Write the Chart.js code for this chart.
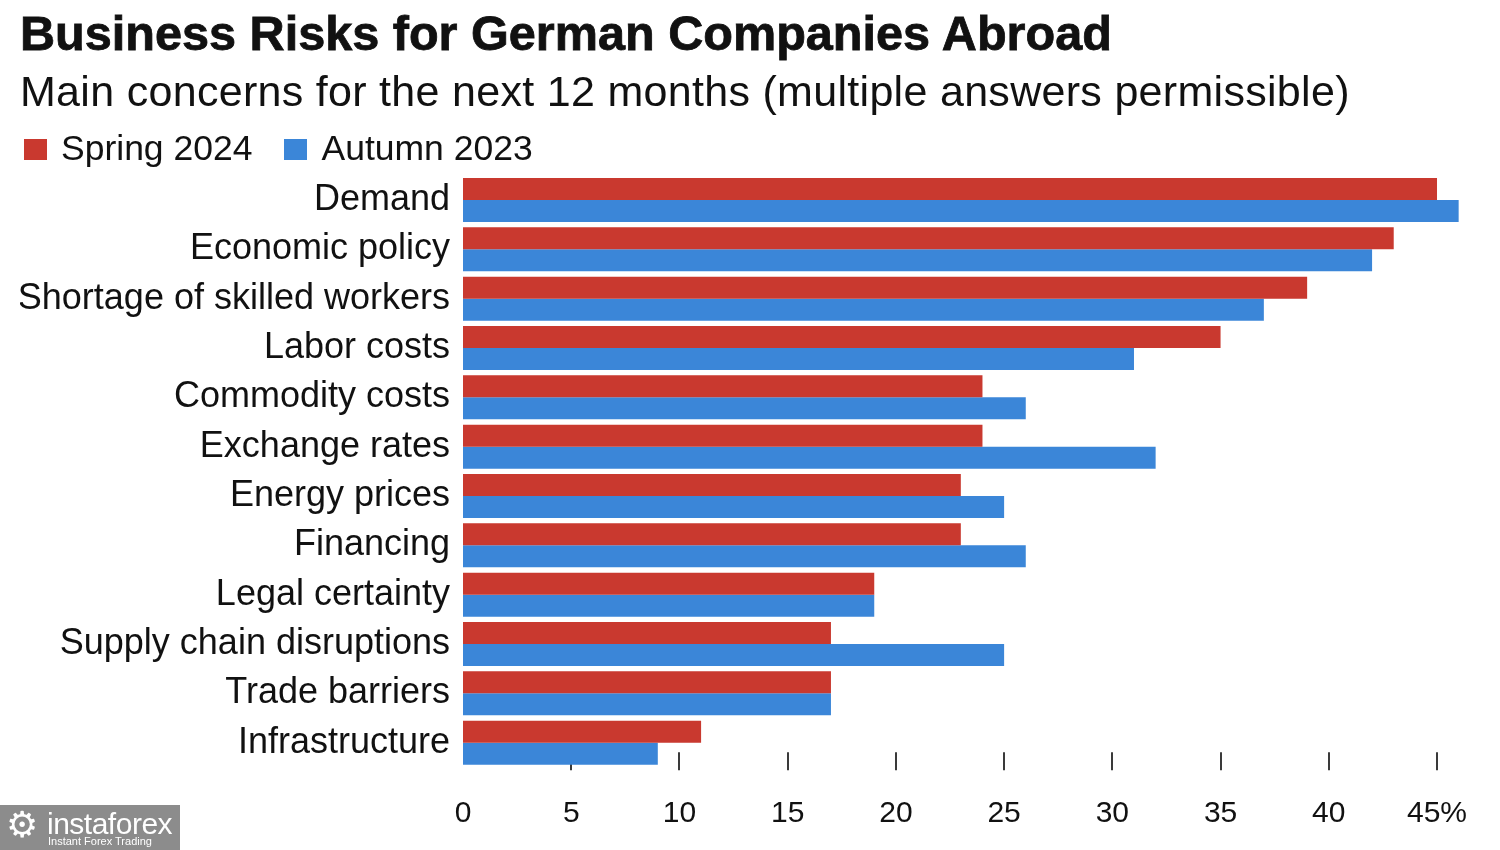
<!DOCTYPE html>
<html>
<head>
<meta charset="utf-8">
<script src="https://cdn.jsdelivr.net/npm/chart.js@4.4.1/dist/chart.umd.min.js"></script>
<style>
  html, body { margin: 0; padding: 0; background: #fff; }
  body { width: 1500px; height: 850px; position: relative; overflow: hidden;
         font-family: "Liberation Sans", Arial, sans-serif; color: #111; }
  #chart { position: absolute; left: 0; top: 0; }
  .hdr { position: absolute; left: 20px; margin: 0; line-height: 1; white-space: nowrap; }
  #title { top: 9px; font-size: 48.6px; font-weight: bold; -webkit-text-stroke: 0.8px #111; }
  #subtitle { top: 70px; font-size: 43px; font-weight: normal; letter-spacing: 0.3px; }
  #legend { position: absolute; left: 24px; top: 131px; display: flex; font-size: 35.5px; line-height: 1; }
  #legend .item { display: flex; align-items: flex-start; margin-right: 32px; }
  #legend .sw { width: 23px; height: 21px; margin-top: 8px; margin-right: 14px; }
  #wm { position: absolute; left: 0; top: 805px; width: 180px; height: 45px; background: #8c8c8c; color: #fff; }
  #wm .gear { position: absolute; left: 6px; top: 2px; font-size: 36px; line-height: 1; font-family: "DejaVu Sans"; }
  #wm .name { position: absolute; left: 47px; top: 4px; font-size: 30px; line-height: 1; letter-spacing: -0.5px; }
  #wm .tag { position: absolute; left: 48px; top: 31px; font-size: 11px; line-height: 1; }
</style>
</head>
<body>
<canvas id="chart" width="1500" height="850"></canvas>
<h1 class="hdr" id="title">Business Risks for German Companies Abroad</h1>
<h2 class="hdr" id="subtitle">Main concerns for the next 12 months (multiple answers permissible)</h2>
<div id="legend"></div>
<div id="wm"><span class="gear">⚙</span><span class="name">instaforex</span><span class="tag">Instant Forex Trading</span></div>

<script>
// categories, top to bottom
const categories = [
    'Demand', 'Economic policy', 'Shortage of skilled workers', 'Labor costs',
    'Commodity costs', 'Exchange rates', 'Energy prices', 'Financing',
    'Legal certainty', 'Supply chain disruptions', 'Trade barriers', 'Infrastructure'
];

// share of companies, in percent
const spring2024 = [45, 43, 39, 35, 24, 24, 23, 23, 19, 17, 17, 11];
const autumn2023 = [46, 42, 37, 31, 26, 32, 25, 26, 19, 25, 17, 9];

const seriesNames = ['Spring 2024', 'Autumn 2023'];
const seriesColors = ['#c9392f', '#3b86d8'];

const xTicks = [0, 5, 10, 15, 20, 25, 30, 35, 40, 45];

// legend (html)
const legendEl = document.getElementById('legend');
seriesNames.forEach((name, i) => {
    const item = document.createElement('div');
    item.className = 'item';
    item.innerHTML = '<span class="sw" style="background:' + seriesColors[i] + '"></span><span>' + name + '</span>';
    legendEl.appendChild(item);
});

// small vertical tick marks above the x labels, drawn under the bars
const tickMarks = {
    id: 'tickMarks',
    beforeDatasetsDraw(chart) {
        const ctx = chart.ctx;
        const x = chart.scales.x;
        const bottom = chart.chartArea.bottom;
        ctx.save();
        ctx.strokeStyle = '#3a3a3a';
        ctx.lineWidth = 2;
        xTicks.forEach(v => {
            if (v === 0) return;
            const px = Math.round(x.getPixelForValue(v));
            ctx.beginPath();
            ctx.moveTo(px, bottom - 15);
            ctx.lineTo(px, bottom + 3);
            ctx.stroke();
        });
        ctx.restore();
    }
};

new Chart(document.getElementById('chart'), {
    type: 'bar',
    data: {
        labels: categories,
        datasets: [
            { label: seriesNames[0], data: spring2024, backgroundColor: seriesColors[0] },
            { label: seriesNames[1], data: autumn2023, backgroundColor: seriesColors[1] }
        ]
    },
    options: {
        indexAxis: 'y',
        responsive: false,
        animation: false,
        layout: { padding: { top: 175.3, left: 20, right: 19.7, bottom: 0 } },
        datasets: { bar: { categoryPercentage: 0.892, barPercentage: 1 } },
        plugins: {
            legend: { display: false },
            title: { display: false },
            tooltip: { enabled: false }
        },
        scales: {
            y: {
                grid: { display: false, drawTicks: false },
                border: { display: false },
                afterFit: s => { s.width = 443; },
                ticks: {
                    color: '#111',
                    padding: 13,
                    labelOffset: 0,
                    font: { family: 'Liberation Sans', size: 36 }
                }
            },
            x: {
                min: 0,
                max: 47,
                grid: { display: false, drawTicks: false },
                border: { display: false },
                afterFit: s => { s.height = 82.7; },
                afterBuildTicks: s => { s.ticks = xTicks.map(v => ({ value: v })); },
                ticks: {
                    color: '#111',
                    padding: 28,
                    maxRotation: 0,
                    font: { family: 'Liberation Sans', size: 30 },
                    callback: v => v === 45 ? '45%' : String(v)
                }
            }
        }
    },
    plugins: [tickMarks]
});
</script>
</body>
</html>
